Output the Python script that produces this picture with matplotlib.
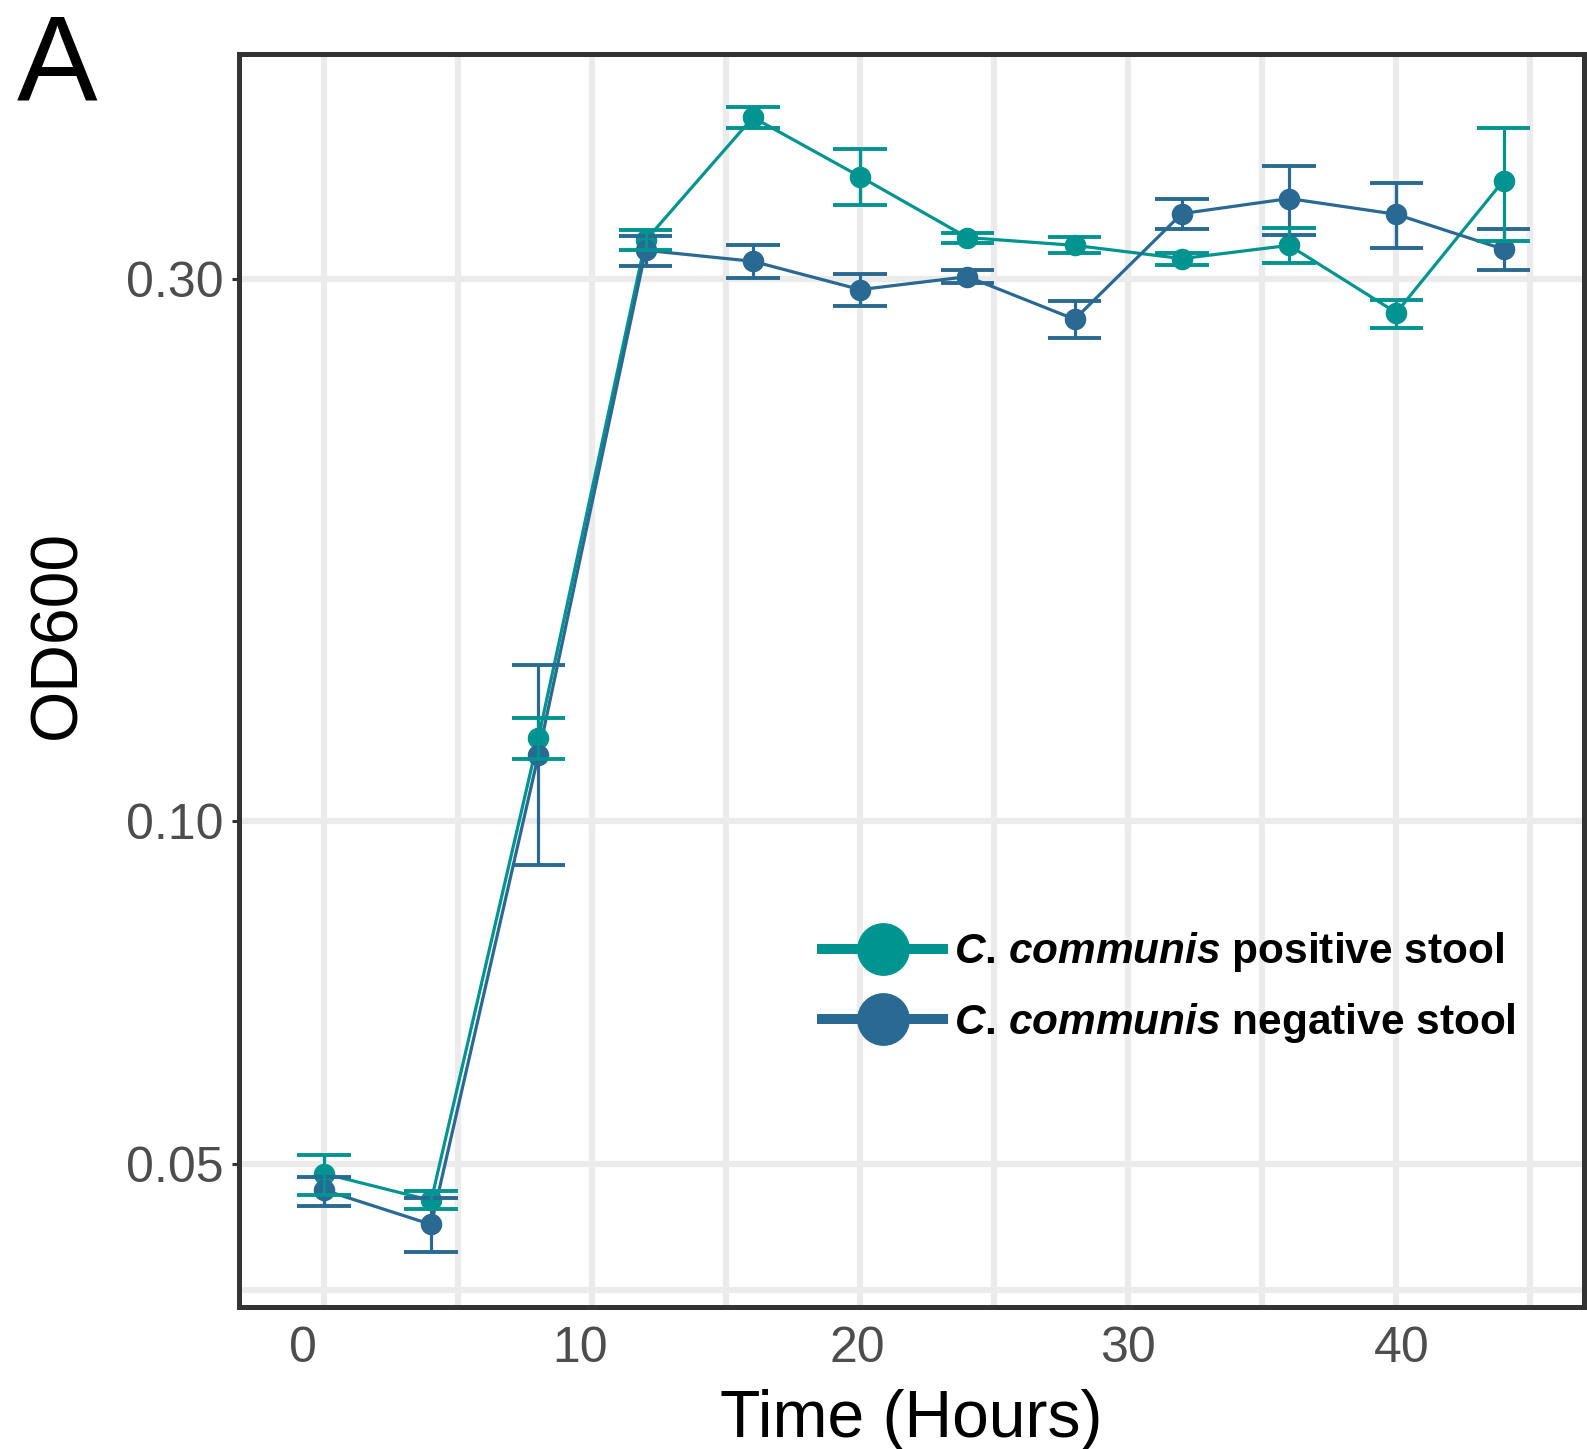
import matplotlib
matplotlib.use("Agg")
import matplotlib.pyplot as plt
from matplotlib.lines import Line2D
from matplotlib.ticker import FixedLocator, NullLocator
from matplotlib.transforms import ScaledTranslation

plt.rcParams['font.family'] = ['Liberation Sans', 'DejaVu Sans']
plt.rcParams['mathtext.fontset'] = 'custom'
plt.rcParams['mathtext.it'] = 'Liberation Sans:italic:bold'
plt.rcParams['mathtext.rm'] = 'Liberation Sans:bold'
plt.rcParams['mathtext.bf'] = 'Liberation Sans:bold'

# Growth curves: mean OD600 with error-bar limits per sampling time
hours = [0, 4, 8, 12, 16, 20, 24, 28, 32, 36, 40, 44]

pos_mean = [0.0490, 0.0464, 0.1184, 0.3242, 0.4158, 0.3688, 0.3260, 0.3209, 0.3124, 0.3209, 0.2800, 0.3659]
pos_low = [0.0469, 0.0456, 0.1134, 0.3177, 0.4072, 0.3480, 0.3225, 0.3161, 0.3082, 0.3097, 0.2716, 0.3238]
pos_high = [0.0509, 0.0473, 0.1233, 0.3313, 0.4246, 0.3899, 0.3293, 0.3265, 0.3162, 0.3327, 0.2875, 0.4072]

neg_mean = [0.0474, 0.0442, 0.1144, 0.3177, 0.3107, 0.2934, 0.3012, 0.2763, 0.3422, 0.3528, 0.3417, 0.3184]
neg_low = [0.0459, 0.0418, 0.0915, 0.3076, 0.3002, 0.2839, 0.2974, 0.2662, 0.3320, 0.3280, 0.3193, 0.3055]
neg_high = [0.0487, 0.0466, 0.1372, 0.3273, 0.3209, 0.3026, 0.3051, 0.2867, 0.3526, 0.3772, 0.3642, 0.3315]

# italic genus/species, bold remainder
series_labels = [r'$\mathit{C}$. $\mathit{communis}$ positive stool',
                 r'$\mathit{C}$. $\mathit{communis}$ negative stool']

y_ticks = [0.05, 0.10, 0.30]
y_ticklabels = ['0.05', '0.10', '0.30']
x_ticks = [0, 10, 20, 30, 40]
x_minor = [5, 15, 25, 35, 45]
y_extra_grid = 0.0387

TEAL = '#009490'
BLUE = '#296992'
GRID = '#EBEBEB'
DARK = '#333333'

fig = plt.figure(figsize=(15.87, 14.49), dpi=100)
ax = fig.add_axes([0.1506, 0.0980, 0.8475, 0.8647])

ax.set_yscale('log')
ax.set_xlim(-3.17, 47.0)
ax.set_ylim(0.0374, 0.4727)

# grid
ax.set_axisbelow(True)
ax.xaxis.set_major_locator(FixedLocator(x_ticks))
ax.xaxis.set_minor_locator(FixedLocator(x_minor))
ax.yaxis.set_major_locator(FixedLocator(y_ticks))
ax.yaxis.set_minor_locator(NullLocator())
ax.set_yticklabels(y_ticklabels)
ax.grid(True, which='both', axis='x', color=GRID, lw=4.5, zorder=0)
ax.grid(True, which='major', axis='y', color=GRID, lw=4.5, zorder=0)
ax.axhline(y_extra_grid, color=GRID, lw=4.5, zorder=0)

series = [
    (pos_mean, pos_low, pos_high, TEAL),
    (neg_mean, neg_low, neg_high, BLUE),
]

for mean, low, high, col in series:
    ax.plot(hours, mean, color=col, lw=2.3, zorder=3)
for mean, low, high, col in series:
    ax.plot(hours, mean, 'o', color=col, ms=14.5, zorder=4)
for mean, low, high, col in reversed(series):
    ax.vlines(hours, low, high, color=col, lw=2.3, zorder=5)
    ax.hlines(low, [h - 1 for h in hours], [h + 1 for h in hours], color=col, lw=2.8, zorder=5)
    ax.hlines(high, [h - 1 for h in hours], [h + 1 for h in hours], color=col, lw=2.8, zorder=5)

for s in ax.spines.values():
    s.set_linewidth(3.6)
    s.set_color(DARK)
    s.set_zorder(10)

ax.tick_params(axis='x', which='both', length=0, pad=14, labelsize=36, labelcolor='#4D4D4D')
ax.tick_params(axis='y', which='major', length=5, width=2.2, color=DARK, pad=6,
               labelsize=36, labelcolor='#4D4D4D')

# slight horizontal nudges of the hour labels (inches)
x_label_nudge = [-0.21, -0.12, -0.03, 0.0, 0.05]
for lab, dx in zip(ax.get_xticklabels(), x_label_nudge):
    lab.set_transform(lab.get_transform() + ScaledTranslation(dx, 0, fig.dpi_scale_trans))

ax.set_xlabel('Time (Hours)', fontsize=47.5, labelpad=12)
ax.set_ylabel('OD600', fontsize=47.5)
ax.yaxis.set_label_coords(-0.111, 0.537)

handles = [Line2D([], [], color=TEAL, lw=7.2, marker='o', ms=37, mec=TEAL),
           Line2D([], [], color=BLUE, lw=7.2, marker='o', ms=37, mec=BLUE)]
ax.legend(handles, series_labels, loc='center left', bbox_to_anchor=(0.4335, 0.255),
          frameon=False, prop={'size': 30.5, 'weight': 'bold'}, handlelength=2.86,
          handletextpad=0.25, labelspacing=0.62, borderpad=0, borderaxespad=0)

fig.text(0.0107, 1 - 100 / 1449, 'A', fontsize=87, va='baseline', ha='left')

fig.savefig('out.png', dpi=100)
